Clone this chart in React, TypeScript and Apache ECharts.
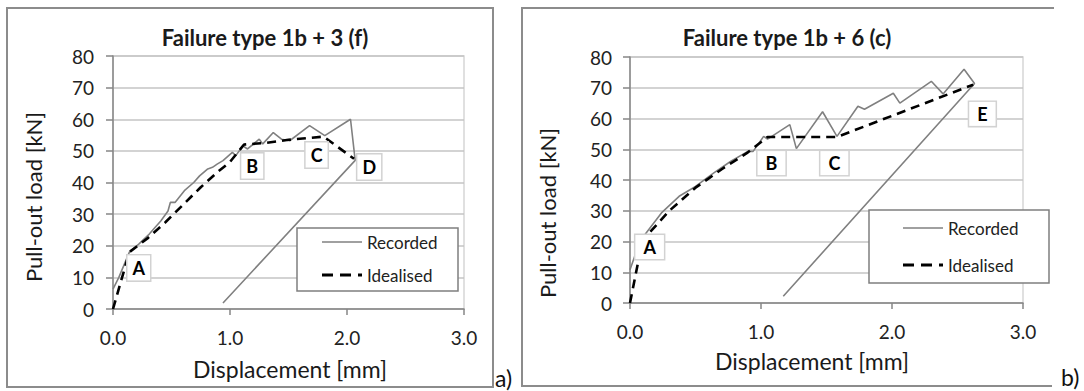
import React, { useEffect, useRef } from "react";
import * as echarts from "echarts";

// ---------- data (displacement [mm], load [kN]) ----------
const recordedA: [number, number][] = [
  [0, 6.3], [0.05, 10], [0.14, 18], [0.22, 20.5], [0.31, 23.7], [0.41, 27.9], [0.47, 31],
  [0.49, 33.7], [0.53, 33.7], [0.61, 37.4], [0.69, 40], [0.74, 42.1], [0.81, 44.3],
  [0.85, 44.8], [0.89, 45.8], [0.94, 46.9], [1.02, 49.5], [1.05, 48.5], [1.11, 51.6],
  [1.15, 50.6], [1.25, 53.7], [1.28, 52.2], [1.37, 55.8], [1.44, 53.7], [1.51, 53.2],
  [1.68, 58], [1.81, 54.8], [2.03, 60], [2.07, 47], [0.94, 1.9],
];
const idealisedA: [number, number][] = [
  [0, 0], [0.14, 18], [0.3, 22.5], [0.45, 27.5], [0.6, 33], [0.75, 38.5], [0.9, 43.5],
  [1.0, 46.5], [1.12, 52], [1.3, 52.5], [1.5, 53.5], [1.8, 54.5], [2.06, 47.5],
];
const recordedB: [number, number][] = [
  [0, 10.8], [0.045, 16.3], [0.11, 22], [0.24, 29.3], [0.375, 34.7], [0.5, 37.9],
  [0.64, 42.3], [0.77, 46.1], [0.9, 49.3], [0.94, 49.3], [1.02, 54.2], [1.05, 53.3],
  [1.22, 58], [1.27, 50.2], [1.47, 62.2], [1.58, 54.2], [1.74, 64], [1.79, 63],
  [2.01, 68.2], [2.06, 65], [2.3, 72.1], [2.39, 68], [2.55, 76], [2.63, 71.4], [1.17, 2.2],
];
const idealisedB: [number, number][] = [
  [0, 0], [0.07, 15], [0.12, 21.5], [0.3, 30], [0.5, 37.5], [0.7, 43.5], [0.9, 49],
  [1.05, 54], [1.58, 54], [2.62, 71],
];
// point labels, placed in data coordinates
const pointsA: { name: string; value: [number, number] }[] = [
  { name: "A", value: [0.22, 13] },
  { name: "B", value: [1.19, 45.2] },
  { name: "C", value: [1.74, 48.7] },
  { name: "D", value: [2.19, 44.9] },
];
const pointsB: { name: string; value: [number, number] }[] = [
  { name: "A", value: [0.15, 18.2] },
  { name: "B", value: [1.08, 45.5] },
  { name: "C", value: [1.56, 45.5] },
  { name: "E", value: [2.69, 61.5] },
];
const titles = ["Failure type 1b + 3 (f)", "Failure type 1b + 6 (c)"];
const xName = "Displacement [mm]";
const yName = "Pull-out load [kN]";
const legendNames = ["Recorded", "Idealised"];
const panelTags = ["a)", "b)"];

const FONT = 'Lato, "Open Sans", sans-serif';
const REC_COLOR = "#808080";

export default function App() {
  const ref = useRef<HTMLDivElement>(null);
  useEffect(() => {
    document.body.style.margin = "0";
    document.body.style.overflow = "hidden";
    const chart = echarts.init(ref.current!, undefined, { renderer: "svg" });

    const grids = [
      { left: 113, top: 56, width: 351, height: 253 },
      { left: 630, top: 57, width: 393, height: 246 },
    ];
    const mkX = (i: number, margin: number) => ({
      type: "value" as const,
      gridIndex: i,
      min: 0,
      max: 3,
      interval: 1,
      axisLine: { show: true, lineStyle: { color: "#868686", width: 1.5 } },
      axisTick: { show: true, length: 6, lineStyle: { color: "#868686", width: 1.5 } },
      splitLine: { show: false },
      axisLabel: {
        margin,
        fontFamily: FONT,
        fontSize: 19,
        color: "#222",
        formatter: (v: number) => v.toFixed(1),
      },
    });
    const mkY = (i: number, margin: number) => ({
      type: "value" as const,
      gridIndex: i,
      min: 0,
      max: 80,
      interval: 10,
      axisLine: { show: true, lineStyle: { color: "#868686", width: 1.5 } },
      axisTick: { show: true, length: 7, lineStyle: { color: "#868686", width: 1.5 } },
      splitLine: { show: true, lineStyle: { color: "#c4c4c4", width: 1.5 } },
      axisLabel: { margin, fontFamily: FONT, fontSize: 19, color: "#222" },
    });
    const lineSeries = (i: number, name: string, data: [number, number][]) => ({
      type: "line" as const,
      name,
      xAxisIndex: i,
      yAxisIndex: i,
      data,
      symbol: "none",
      showSymbol: false,
      z: name === "Recorded" ? 2 : 3,
      lineStyle:
        name === "Recorded"
          ? { color: REC_COLOR, width: 1.6 }
          : { color: "#000", width: 2.6, type: [9, 6] as any },
    });
    const labelSeries = (i: number, data: any[], padding: number[]) => ({
      type: "scatter" as const,
      xAxisIndex: i,
      yAxisIndex: i,
      data,
      symbolSize: 1,
      itemStyle: { color: "#fff", opacity: 1 },
      z: 5,
      label: {
        show: true,
        position: "inside",
        formatter: "{b}",
        fontFamily: FONT,
        fontWeight: "bold",
        fontSize: 18,
        color: "#000",
        opacity: 1,
        textBorderWidth: 0,
        backgroundColor: "#fff",
        borderColor: "#d2d2d2",
        borderWidth: 1.5,
        padding,
      },
    });

    const legend = (x: number, y: number, w: number, h: number, r1: number, r2: number, lx0: number, lx1: number, tx: number) => [
      { type: "rect", shape: { x, y, width: w, height: h }, style: { fill: "#fff", stroke: "#7f7f7f", lineWidth: 1.5 }, z: 10 },
      { type: "line", shape: { x1: lx0, y1: r1, x2: lx1, y2: r1 }, style: { stroke: REC_COLOR, lineWidth: 1.6 }, z: 11 },
      { type: "line", shape: { x1: lx0, y1: r2, x2: lx1, y2: r2 }, style: { stroke: "#000", lineWidth: 2.8, lineDash: [11, 7] }, z: 11 },
      { type: "text", x: tx, y: r1, style: { text: legendNames[0], font: `17px ${FONT}`, fill: "#222", align: "left", verticalAlign: "middle", textAlign: "left", textVerticalAlign: "middle" }, z: 11 },
      { type: "text", x: tx, y: r2, style: { text: legendNames[1], font: `17px ${FONT}`, fill: "#222", align: "left", verticalAlign: "middle", textAlign: "left", textVerticalAlign: "middle" }, z: 11 },
    ];
    const ctext = (x: number, y: number, text: string, font: string, rot = 0) => ({
      type: "text",
      x,
      y,
      rotation: rot,
      style: { text, font, fill: "#1a1a1a", align: "center", verticalAlign: "middle", textAlign: "center", textVerticalAlign: "middle" },
      z: 10,
    });

    chart.setOption({
      animation: false,
      grid: grids.map((g) => ({ ...g, show: true, borderColor: "#d6d6d6", borderWidth: 1.5, backgroundColor: "transparent" })),
      xAxis: [mkX(0, 19), mkX(1, 19)],
      yAxis: [mkY(0, 19), mkY(1, 18)],
      series: [
        lineSeries(0, "Recorded", recordedA),
        lineSeries(0, "Idealised", idealisedA),
        lineSeries(1, "Recorded", recordedB),
        lineSeries(1, "Idealised", idealisedB),
        labelSeries(0, pointsA, [4, 5, 3, 5]),
        labelSeries(1, pointsB, [3, 8, 3, 8]),
      ],
      graphic: [
        // outer frames
        { type: "rect", shape: { x: 7, y: 8, width: 486, height: 379 }, style: { fill: "none", stroke: "#8c8c8c", lineWidth: 2 }, z: 1 },
        { type: "polyline", shape: { points: [[1054, 8], [522, 8], [522, 386], [1052, 386]] }, style: { fill: "none", stroke: "#8c8c8c", lineWidth: 2 }, z: 1 },
        // titles
        ctext(265, 37, titles[0], `bold 22px ${FONT}`),
        ctext(787, 37, titles[1], `bold 22px ${FONT}`),
        // axis names
        ctext(290, 369, xName, `23px ${FONT}`),
        ctext(812, 361, xName, `23px ${FONT}`),
        ctext(33, 197, yName, `22px ${FONT}`, Math.PI / 2),
        ctext(547, 213, yName, `22px ${FONT}`, Math.PI / 2),
        // panel tags
        { type: "text", x: 495, y: 378, style: { text: panelTags[0], font: `23px ${FONT}`, fill: "#111", align: "left", verticalAlign: "middle", textAlign: "left", textVerticalAlign: "middle" }, z: 10 },
        { type: "text", x: 1061, y: 377, style: { text: panelTags[1], font: `23px ${FONT}`, fill: "#111", align: "left", verticalAlign: "middle", textAlign: "left", textVerticalAlign: "middle" }, z: 10 },
        // legends
        ...legend(297, 228, 161, 63, 242, 275, 322, 362, 367),
        ...legend(869, 210, 180, 73, 228, 265, 903, 943, 948),
      ],
    });
    return () => chart.dispose();
  }, []);
  return <div ref={ref} style={{ width: 1084, height: 391 }} />;
}
